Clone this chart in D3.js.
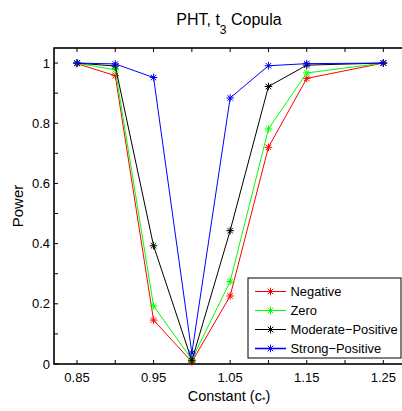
<!DOCTYPE html>
<html><head><meta charset="utf-8">
<script src="https://cdn.jsdelivr.net/npm/d3@7"></script>
<style>body{margin:0;background:#fff}svg{display:block;font-family:"Liberation Sans",Arial,sans-serif}</style>
</head><body><svg id="c" width="402" height="411"></svg>
<script>
const xVals = [0.85, 0.9, 0.95, 1.0, 1.05, 1.1, 1.15, 1.25];
const negative = [0.998, 0.958, 0.146, 0.007, 0.226, 0.720, 0.949, 1.0];
const zero = [0.999, 0.978, 0.193, 0.015, 0.274, 0.781, 0.967, 1.0];
const moderatePositive = [1.0, 0.990, 0.393, 0.011, 0.443, 0.922, 0.993, 1.0];
const strongPositive = [1.0, 0.997, 0.952, 0.036, 0.884, 0.991, 0.998, 1.0];
const seriesNames = ["Negative", "Zero", "Moderate\u2212Positive", "Strong\u2212Positive"];
const seriesColors = ["#ff0000", "#00ff00", "#000000", "#0000ff"];
const xTicks = [0.85, 0.9, 0.95, 1.0, 1.05, 1.1, 1.15, 1.2, 1.25];
const xTickLabels = ["0.85", "", "0.95", "", "1.05", "", "1.15", "", "1.25"];
const yTicks = [0, 0.1, 0.2, 0.3, 0.4, 0.5, 0.6, 0.7, 0.8, 0.9, 1.0];
const yTickLabels = ["0", "", "0.2", "", "0.4", "", "0.6", "", "0.8", "", "1"];

const series = [negative, zero, moderatePositive, strongPositive];
const L = 54, R = 404, T = 48, B = 364;
const svg = d3.select("#c");
const x = d3.scaleLinear().domain([0.82, 1.277]).range([L, R]);
const y = d3.scaleLinear().domain([0, 1.05]).range([B, T]);

svg.append("rect").attr("x", L).attr("y", T).attr("width", R - L).attr("height", B - T)
  .attr("fill", "#fff").attr("stroke", "#000").attr("stroke-width", 1.6);

const tk = 4;
xTicks.forEach((v, i) => {
  svg.append("line").attr("x1", x(v)).attr("x2", x(v)).attr("y1", B).attr("y2", B - tk).attr("stroke", "#000");
  svg.append("line").attr("x1", x(v)).attr("x2", x(v)).attr("y1", T).attr("y2", T + tk).attr("stroke", "#000");
  if (xTickLabels[i]) svg.append("text").attr("x", x(v)).attr("y", 382).attr("text-anchor", "middle")
    .attr("font-size", 13).text(xTickLabels[i]);
});
yTicks.forEach((v, i) => {
  svg.append("line").attr("x1", L).attr("x2", L + tk).attr("y1", y(v)).attr("y2", y(v)).attr("stroke", "#000");
  if (yTickLabels[i]) svg.append("text").attr("x", 50).attr("y", y(v) + 4.6).attr("text-anchor", "end")
    .attr("font-size", 13).text(yTickLabels[i]);
});

function star(g, cx, cy, color) {
  const r = 3.8, d = r * 0.72;
  const p = `M${cx - r},${cy}L${cx + r},${cy}M${cx},${cy - r}L${cx},${cy + r}M${cx - d},${cy - d}L${cx + d},${cy + d}M${cx - d},${cy + d}L${cx + d},${cy - d}`;
  g.append("path").attr("d", p).attr("stroke", color).attr("stroke-width", 1).attr("fill", "none");
}

const line = d3.line().x(d => x(d[0])).y(d => y(d[1]));
series.forEach((s, k) => {
  const pts = xVals.map((v, i) => [v, s[i]]);
  const g = svg.append("g");
  g.append("path").attr("d", line(pts)).attr("fill", "none").attr("stroke", seriesColors[k]).attr("stroke-width", 1);
  pts.forEach(p => star(g, x(p[0]), y(p[1]), seriesColors[k]));
});

const lg = svg.append("g");
lg.append("rect").attr("x", 248).attr("y", 278).attr("width", 153).attr("height", 80)
  .attr("fill", "#fff").attr("stroke", "#000").attr("stroke-width", 1);
seriesNames.forEach((n, k) => {
  const yy = 291.5 + k * 19;
  lg.append("line").attr("x1", 255).attr("x2", 286).attr("y1", yy).attr("y2", yy)
    .attr("stroke", seriesColors[k]).attr("stroke-width", k === 3 ? 1.6 : 1);
  star(lg, 270.5, yy, seriesColors[k]);
  lg.append("text").attr("x", 290.5).attr("y", yy + 4.6).attr("font-size", 12.9).text(n);
});

const t = svg.append("text").attr("x", 229).attr("y", 25).attr("text-anchor", "middle").attr("font-size", 16);
t.append("tspan").text("PHT, t");
t.append("tspan").attr("font-size", 12).attr("dy", 9).text("3");
t.append("tspan").attr("dy", -9).text(" Copula");

const xl = svg.append("text").attr("x", 229).attr("y", 401).attr("text-anchor", "middle").attr("font-size", 14.5);
xl.append("tspan").text("Constant (c");
xl.append("tspan").attr("font-size", 9).attr("dy", 2).text("*");
xl.append("tspan").attr("dy", -2).text(")");

svg.append("text").attr("transform", `translate(23,${(T + B) / 2}) rotate(-90)`).attr("text-anchor", "middle")
  .attr("font-size", 15).text("Power");
</script></body></html>
